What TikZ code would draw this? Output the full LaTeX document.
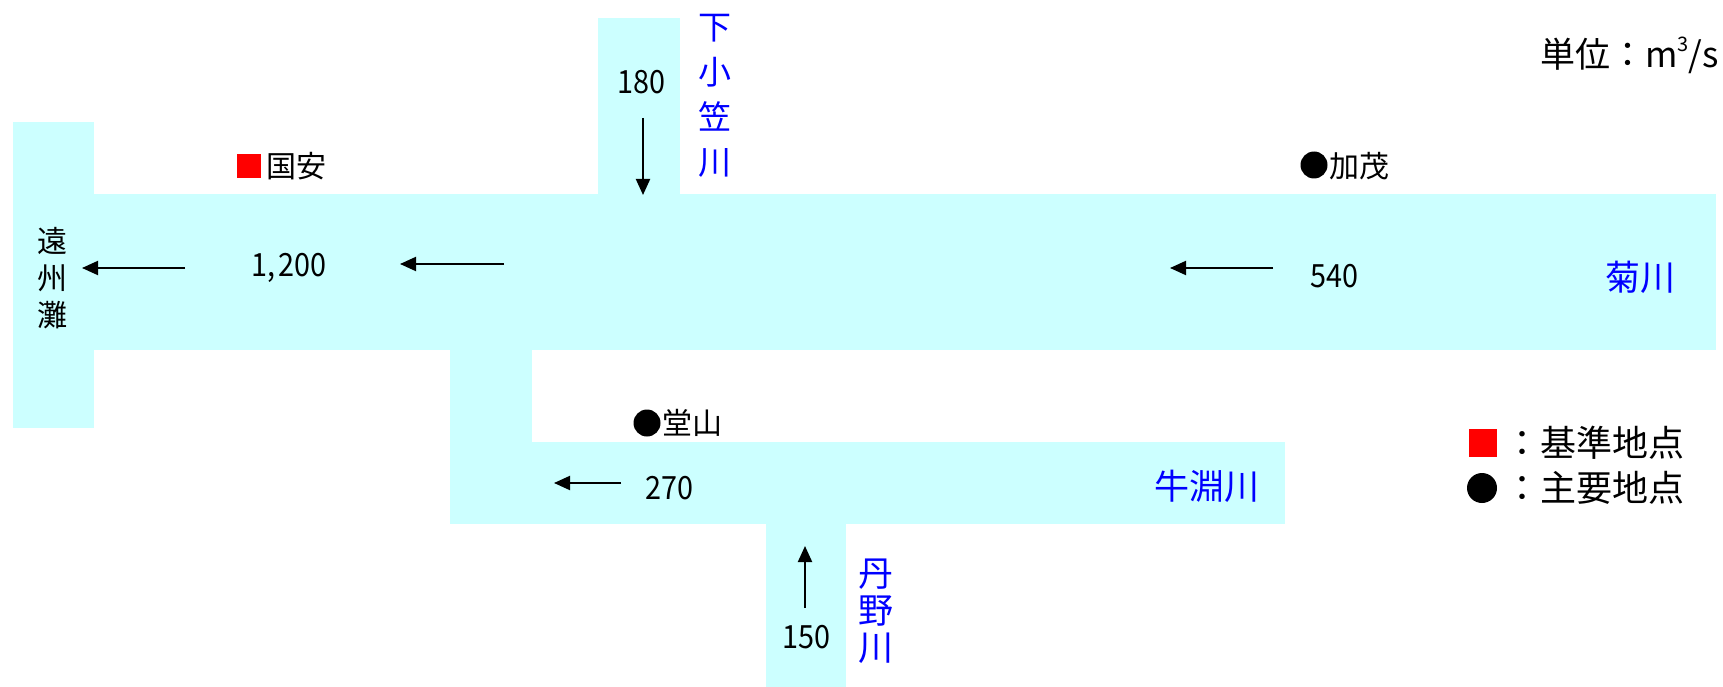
\documentclass[tikz,border=0pt]{standalone}
\usepackage{fontspec}
\setmainfont{Noto Sans CJK JP}
\newfontfamily\numf[FakeStretch=0.9]{Noto Sans CJK JP}
\usetikzlibrary{arrows.meta}
\definecolor{water}{HTML}{CCFFFF}
\definecolor{rivblue}{HTML}{0000FF}
\definecolor{mkred}{HTML}{FF0000}
\tikzset{
  water/.style={fill=water,draw=none},
  flow/.style={line width=2pt,-{Triangle[length=16pt,width=14pt]}},
  num/.style={inner sep=0pt,font=\numf\fontsize{32}{32}\selectfont},
  place/.style={inner sep=0pt,font=\fontsize{30}{30}\selectfont},
  river/.style={inner sep=0pt,text=rivblue,font=\fontsize{35}{35}\selectfont},
  vriver/.style={inner sep=0pt,text=rivblue,align=center},
  legend/.style={inner sep=0pt,font=\fontsize{35}{35}\selectfont},
  legendtxt/.style={inner sep=0pt,font=\fontsize{36}{36}\selectfont},
  dot/.style={circle,fill=black,inner sep=0pt},
  redsq/.style={fill=mkred,draw=none,inner sep=0pt}
}
\begin{document}
\begin{tikzpicture}[x=1pt,y=-1pt]
\useasboundingbox (0,0) rectangle (1723,687);
% water areas
\fill[water] (13,122) rectangle (94,428);
\fill[water] (93,194) rectangle (1716,350);
\fill[water] (598,18) rectangle (680,195);
\fill[water] (450,349) rectangle (532,443);
\fill[water] (450,442) rectangle (1285,524);
\fill[water] (766,523) rectangle (846,687);

% labels
\node[num] (n180) at (641,82) {180};
\node[vriver,font=\fontsize{33}{45}\selectfont] (shimo) at (715,96) {下\\小\\笠\\川};
\node[redsq,minimum width=24pt,minimum height=24pt] (sqk) at (249,166) {};
\node[place,anchor=west] (kuniyasu) at (266,166) {国安};
\node[inner sep=0pt,align=center,font=\fontsize{30}{37}\selectfont] (enshu) at (52,278) {遠\\州\\灘};
\node[num] (n1200) at (289,268) {1,\kern3pt200};
\node[num] (n540) at (1334,276) {540};
\node[river] (kiku) at (1640,277) {菊川};
\node[dot,minimum size=27pt] (dk) at (1314,165) {};
\node[place,anchor=west] (kamo) at (1329,166) {加茂};
\node[dot,minimum size=27pt] (dd) at (647,423) {};
\node[place,anchor=west] (dozan) at (662,423) {堂山};
\node[num] (n270) at (669,488) {270};
\node[river] (ushi) at (1207,486) {牛淵川};
\node[num] (n150) at (806,637) {150};
\node[vriver,font=\fontsize{35}{37}\selectfont] (tanno) at (876,611) {丹\\野\\川};
\node[legend,anchor=east] (unit) at (1719,55) {単位：m\raisebox{0.45em}{\fontsize{20}{20}\selectfont 3}/s};
\node[redsq,minimum width=28pt,minimum height=28pt] (lsq) at (1483,443) {};
\node[legendtxt,anchor=west] (lt1) at (1504,443) {：基準地点};
\node[dot,minimum size=30pt] (ldot) at (1482,488) {};
\node[legendtxt,anchor=west] (lt2) at (1504,488) {：主要地点};

% arrows
\coordinate (a1s) at (185,268); \coordinate (a1e) at (82,268);
\coordinate (a2s) at (504,264); \coordinate (a2e) at (400,264);
\coordinate (a3s) at (1273,268); \coordinate (a3e) at (1170,268);
\coordinate (a4s) at (643,118); \coordinate (a4e) at (643,195);
\coordinate (a5s) at (621,483); \coordinate (a5e) at (554,483);
\coordinate (a6s) at (805,608); \coordinate (a6e) at (805,546);
\draw[flow] (a1s) -- (a1e);
\draw[flow] (a2s) -- (a2e);
\draw[flow] (a3s) -- (a3e);
\draw[flow] (a4s) -- (a4e);
\draw[flow] (a5s) -- (a5e);
\draw[flow] (a6s) -- (a6e);
\end{tikzpicture}
\end{document}
